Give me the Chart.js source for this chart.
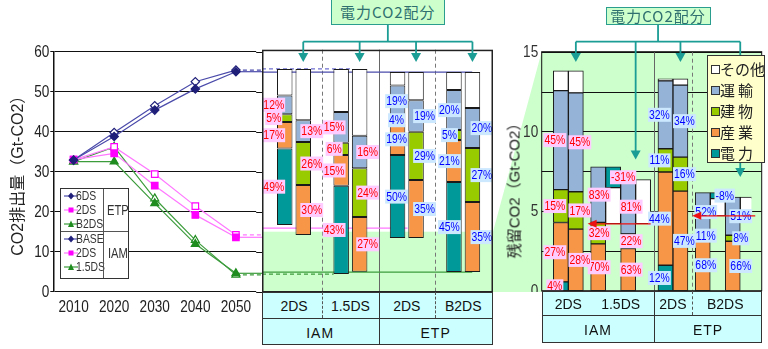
<!DOCTYPE html>
<html lang="ja">
<head>
<meta charset="utf-8">
<title>CO2排出量と残留CO2</title>
<script src="https://cdn.jsdelivr.net/npm/chart.js@4.4.1/dist/chart.umd.min.js"></script>
<style>
  html, body { margin: 0; padding: 0; }
  body { position: relative; width: 768px; height: 349px; overflow: hidden; background: #fff;
         font-family: 'Liberation Sans', 'Noto Sans CJK JP', sans-serif; }
  canvas { position: absolute; top: 0; z-index: 1; }
  svg.layer { position: absolute; left: 0; top: 0; pointer-events: none; }
  #back { z-index: 0; }
  #front { z-index: 2; }
  .box { position: absolute; box-sizing: border-box; }
  .txt { position: absolute; transform: translate(-50%, -50%); white-space: nowrap; }
  .head { position: absolute; box-sizing: border-box; background: #ccffcc; border: 1px solid #2a9d8f;
          color: #2f6f6f; font: 15px 'Noto Sans CJK JP', sans-serif; letter-spacing: 1px;
          display: flex; align-items: center; justify-content: center; z-index: 3; }
  .vtitle { position: absolute; transform: translate(-50%, -50%) rotate(-90deg); white-space: nowrap;
            font: 15px 'Liberation Sans', 'Noto Sans CJK JP', sans-serif; color: #222; z-index: 1; }
</style>
</head>
<body>
<svg id="back" class="layer" width="768" height="349"></svg>
<canvas id="trend" width="262" height="349" style="left:0"></canvas>
<canvas id="cut" width="231" height="292" style="left:262px"></canvas>
<canvas id="residual" width="263" height="292" style="left:505px"></canvas>
<svg id="front" class="layer" width="768" height="349"></svg>
<div class="vtitle" style="left:513px;top:187px">残留CO2（Gt-CO2）</div>
<div id="trendLegend" class="box" style="left:60px;top:188px;width:69px;height:91px;border:1px solid #333;background:#fff;z-index:3"></div>
<div id="sectorLegend" class="box" style="left:707px;top:55px;width:58px;height:108px;border:1px solid #333;background:#ffffcc;z-index:3"></div>
<script>
// narrow face for numbers; squeeze a regular face when no narrow one is installed
function hasFont(name) {
  const c = document.createElement('canvas').getContext('2d');
  const probe = 'mmmmllll2010%';
  c.font = '40px monospace';
  const a = c.measureText(probe).width;
  c.font = `40px '${name}', monospace`;
  return c.measureText(probe).width !== a;
}
const narrowOK = hasFont('Liberation Sans Narrow');
const NARROW = narrowOK ? "'Liberation Sans Narrow', sans-serif" : "'Liberation Sans', sans-serif";
const SQUEEZE = narrowOK ? 1 : 0.8;
const SANS = "'Liberation Sans', 'Noto Sans CJK JP', sans-serif";
Chart.defaults.font.family = SANS;
Chart.defaults.color = '#222';

// CO2 emission pathways (Gt-CO2)
const years = ['2010', '2020', '2030', '2040', '2050'];
const etp6DS  = [32.9, 38.8, 45.4, 50.7, 55.0];
const etp2DS  = [33.0, 34.6, 26.5, 19.2, 13.6];
const etpB2DS = [32.5, 32.5, 22.1, 11.9, 4.6];
const iamBase = [32.9, 39.8, 46.5, 52.5, 55.4];
const iam2DS  = [33.0, 36.2, 29.4, 21.4, 14.2];
const iam15DS = [32.5, 36.2, 23.3, 12.9, 4.2];

// scenario groups and sectors
const scenarios = ['2DS', '1.5DS', '2DS', 'B2DS'];
const models = ['IAM', 'IAM', 'ETP', 'ETP'];
const sectors = ['電力', '産業', '建物', '運輸', 'その他'];

// 2050 reduction from baseline, share by sector (%)
// A = direct emissions, B = power CO2 allocated to end-use sectors
const cutFromA = [16.7, 4.4, 13.4, 4.9];
const cutFromB = [14.2, 5.0, 13.4, 4.9];
const cutTo = [55.7, 55.7, 54.9, 54.9];
const cutPowerA = [49, 43, 50, 45];
const cutIndA = [17, 15, 19, 21];
const cutBldA = [5, 6, 4, 5];
const cutTrnA = [12, 15, 19, 20];
const cutIndB = [30, 27, 35, 35];
const cutBldB = [26, 24, 29, 27];
const cutTrnB = [13, 16, 19, 20];

// 2050 levels carried over into the reduction panel
const carryLevel = [55.7, 54.9, 15.9, 4.9, 4.4];

// residual 2050 emissions (Gt-CO2) and share by sector (%)
const resTotal = [13.8, 4.2, 13.3, 4.7];
const resPowerA = [4, -31, 12, -8];
const resIndA = [27, 70, 44, 68];
const resBldA = [15, 32, 11, 11];
const resTrnA = [45, 83, 32, 52];
const resIndB = [28, 63, 47, 66];
const resBldB = [17, 22, 16, 8];
const resTrnB = [45, 81, 34, 51];

// ---- styles ----
const sectorColors = ['#009999', '#f79646', '#99cc00', '#95b3d7', '#ffffff'];
const labelInk = { IAM: ['#ff0000', '#ffccff'], ETP: ['#0000ff', '#cce8ff'] };
const cutLabelDx = { A: [-11, -7, -1, -4.5], B: [8.5, 8, 8.5, 9.5] };
const resLabelDx = { A: [-6, 1, -6, 3], 'A-': [0, 10, 0, 7], B: [4, 3, 4, 8], 'B-': [0, 0, 0, 0] };
const carryColor = ['#7070d0', '#4b4bab', '#ff77ff', '#3c9c3c', '#3c9c3c'];
const carryDash = [[4, 3], [], [], [], [4, 3]];
const carryEnd = [0.39, 0.91, 0.63, 0.91, 0.31];
const cutSeps = ['dash', 'solid', 'dash'];
const resSeps = [null, 'solid', 'dash'];

function shares(power, ind, bld, trn) {
  return ind.map((_, g) => {
    const p = power ? power[g] : null;
    const rest = 100 - (p || 0) - ind[g] - bld[g] - trn[g];
    return [p, ind[g], bld[g], trn[g], rest];
  });
}

function barSet(label, stack, data, pcts, s, extra) {
  return Object.assign({
    label, stack, data, pcts, sector: s,
    backgroundColor: sectorColors[s], borderColor: '#1a1a1a', borderWidth: 1, borderSkipped: false
  }, extra);
}

// reduction bars: stacked upward from the scenario level to the baseline
function cutSegments(share, from) {
  return share.map((row, g) => {
    const span = cutTo[g] - from[g];
    let lo = from[g];
    return row.map(p => {
      if (p === null) return null;
      const seg = [lo, lo + span * p / 100];
      lo = seg[1];
      return seg;
    });
  });
}

// residual bars: positive parts from zero, negative parts hang down from the top
function resSegments(share) {
  return share.map((row, g) => {
    const T = resTotal[g];
    let top = 0;
    const pos = row.map(p => {
      if (p === null || p <= 0) return null;
      const seg = [top, top + T * p / 100];
      top = seg[1];
      return seg;
    });
    let cur = top;
    const neg = row.map(p => {
      if (p === null || p >= 0) return null;
      const seg = [cur + T * p / 100, cur];
      cur = seg[0];
      return seg;
    });
    return { pos, neg };
  });
}

const cutDatasets = [];
[['A', shares(cutPowerA, cutIndA, cutBldA, cutTrnA), cutFromA],
 ['B', shares(null, cutIndB, cutBldB, cutTrnB), cutFromB]].forEach(([v, share, from]) => {
  const segs = cutSegments(share, from);
  sectors.forEach((name, s) => cutDatasets.push(barSet(name, v, segs.map(r => r[s]), share.map(r => r[s]), s,
    { categoryPercentage: 0.656, barPercentage: 0.838 })));
});

const resDatasets = [];
[['A', shares(resPowerA, resIndA, resBldA, resTrnA)],
 ['B', shares(null, resIndB, resBldB, resTrnB)]].forEach(([v, share]) => {
  const segs = resSegments(share);
  const opts = { barThickness: 15, skipNull: true };
  sectors.forEach((name, s) => resDatasets.push(barSet(name, v, segs.map(r => r.pos[s]), share.map(r => r[s]), s, opts)));
  sectors.forEach((name, s) => {
    const data = segs.map(r => r.neg[s]);
    if (data.some(d => d)) resDatasets.push(barSet(name, v + '-', data, share.map(r => r[s]), s, opts));
  });
});

function groupSpans(chart, test) {
  const spans = chart.data.labels.map(() => ({ l: Infinity, r: -Infinity, top: Infinity }));
  chart.data.datasets.forEach((ds, i) => {
    if (test && !test(ds)) return;
    chart.getDatasetMeta(i).data.forEach((el, g) => {
      if (ds.data[g] == null) return;
      const s = spans[g];
      s.l = Math.min(s.l, el.x - el.width / 2);
      s.r = Math.max(s.r, el.x + el.width / 2);
      s.top = Math.min(s.top, el.y, el.base);
    });
  });
  return spans;
}

function separators(chart) {
  const sp = groupSpans(chart);
  return sp.slice(1).map((s, k) => (sp[k].r + s.l) / 2);
}

function drawSeps(ctx, xs, kinds, top, bottom) {
  xs.forEach((x, k) => {
    if (!kinds[k]) return;
    ctx.save();
    ctx.strokeStyle = kinds[k] === 'dash' ? '#777' : '#666';
    ctx.lineWidth = 1;
    ctx.setLineDash(kinds[k] === 'dash' ? [4, 3] : []);
    ctx.beginPath();
    ctx.moveTo(Math.round(x) + 0.5, top);
    ctx.lineTo(Math.round(x) + 0.5, bottom);
    ctx.stroke();
    ctx.restore();
  });
}

// condensed text at (x, y)
function squeezedText(ctx, text, x, y, size, color, align) {
  ctx.save();
  ctx.font = size + 'px ' + NARROW;
  ctx.textBaseline = 'middle';
  ctx.textAlign = align;
  ctx.fillStyle = color;
  ctx.translate(x, y);
  ctx.scale(SQUEEZE, 1);
  ctx.fillText(text, 0, 0);
  ctx.restore();
}
function squeezedWidth(ctx, text, size) {
  ctx.save();
  ctx.font = size + 'px ' + NARROW;
  const w = ctx.measureText(text).width * SQUEEZE;
  ctx.restore();
  return w;
}

function makeShareLabels(dx) {
  return {
    id: 'shareLabels',
    afterDatasetsDraw(chart) {
      const ctx = chart.ctx;
      chart.data.datasets.forEach((ds, i) => {
        if (ds.sector === 4) return;
        chart.getDatasetMeta(i).data.forEach((el, g) => {
          if (ds.data[g] == null || ds.pcts[g] == null) return;
          const text = ds.pcts[g] + '%';
          const x = el.x + ((dx[ds.stack] || [])[g] || 0);
          const y = (el.y + el.base) / 2;
          const [ink, paper] = labelInk[models[g]];
          const w = squeezedWidth(ctx, text, 13) + 2;
          ctx.fillStyle = paper;
          ctx.fillRect(x - w / 2, y - 7, w, 14);
          squeezedText(ctx, text, x, y + 0.5, 13, ink, 'center');
        });
      });
    }
  };
}

// tick labels drawn condensed at the scale's own tick positions
function makeTickText(specs) {
  return {
    id: 'tickText',
    afterDraw(chart) {
      const ctx = chart.ctx;
      specs.forEach(sp => {
        const scale = chart.scales[sp.axis];
        scale.ticks.forEach((t, i) => {
          const text = sp.format(t.value, i);
          if (text === '') return;
          const p = scale.getPixelForTick(i);
          if (scale.isHorizontal()) squeezedText(ctx, text, p, scale.top + sp.gap, sp.size, sp.color, 'center');
          else squeezedText(ctx, text, scale.right - sp.gap, p + 0.5, sp.size, sp.color, 'right');
        });
      });
    }
  };
}

// trend lines continue to the right edge at their 2050 level; grid runs on to the edge too
const tails = {
  id: 'tails',
  beforeDatasetsDraw(chart) {
    const { ctx, chartArea, scales: { y } } = chart;
    ctx.save();
    ctx.strokeStyle = '#111';
    ctx.lineWidth = 1;
    y.ticks.forEach(t => {
      const py = Math.round(y.getPixelForValue(t.value)) + 0.5;
      ctx.beginPath();
      ctx.moveTo(chartArea.right, py);
      ctx.lineTo(chart.width, py);
      ctx.stroke();
    });
    ctx.restore();
    chart.data.datasets.forEach((ds, i) => {
      const pts = chart.getDatasetMeta(i).data;
      const last = pts[pts.length - 1];
      ctx.save();
      ctx.strokeStyle = ds.borderColor;
      ctx.lineWidth = 1.2;
      ctx.setLineDash(ds.tailDash);
      ctx.beginPath();
      ctx.moveTo(last.x, last.y);
      ctx.lineTo(chart.width, last.y);
      ctx.stroke();
      ctx.restore();
    });
  }
};

const cutFrame = {
  id: 'cutFrame',
  beforeDatasetsDraw(chart) {
    const { ctx, chartArea, scales: { y } } = chart;
    const band = y.getPixelForValue(15);
    ctx.save();
    ctx.fillStyle = '#ccffcc';
    ctx.fillRect(0, band, chart.width, chart.height - band);
    drawSeps(ctx, separators(chart), cutSeps, chartArea.top - 2, chart.height);
    carryLevel.forEach((v, k) => {
      const py = y.getPixelForValue(v);
      ctx.strokeStyle = carryColor[k];
      ctx.lineWidth = 1.2;
      ctx.setLineDash(carryDash[k]);
      ctx.beginPath();
      ctx.moveTo(0, py);
      ctx.lineTo(chart.width * carryEnd[k], py);
      ctx.stroke();
    });
    ctx.restore();
  },
  afterDraw(chart) {
    const { ctx, chartArea } = chart;
    ctx.save();
    ctx.strokeStyle = '#222';
    ctx.lineWidth = 1.5;
    ctx.strokeRect(0.75, chartArea.top - 1.25, chart.width - 1.5, chart.height - chartArea.top + 1);
    ctx.restore();
  }
};

const frameExtra = 10.3;
const resFrame = {
  id: 'resFrame',
  beforeDatasetsDraw(chart) {
    const { ctx, chartArea, scales: { y } } = chart;
    const left = chartArea.left - 0.5, right = chartArea.right + frameExtra;
    ctx.save();
    ctx.fillStyle = '#ccffcc';
    ctx.fillRect(left, chartArea.top, right - left, chartArea.bottom - chartArea.top);
    ctx.strokeStyle = '#111';
    ctx.lineWidth = 1;
    y.ticks.forEach(t => {
      const py = Math.round(y.getPixelForValue(t.value)) + 0.5;
      ctx.beginPath();
      ctx.moveTo(left, py);
      ctx.lineTo(right, py);
      ctx.stroke();
    });
    drawSeps(ctx, separators(chart), resSeps, chartArea.top, chartArea.bottom);
    ctx.restore();
  },
  afterDraw(chart) {
    const { ctx, chartArea } = chart;
    ctx.save();
    ctx.strokeStyle = '#111';
    ctx.lineWidth = 1;
    ctx.strokeRect(chartArea.left - 0.5, chartArea.top, chartArea.right + frameExtra - chartArea.left + 0.5,
      chartArea.bottom - chartArea.top);
    ctx.restore();
  }
};

// ---- left: emission pathways ----
const navyLine = '#4b4bab', navyMark = '#1f1f7a';
const pinkLine = '#ff77ff', pinkMark = '#ff00ff';
const greenLine = '#3c9c3c', greenMark = '#1e8c1e';
const trendSets = [
  { label: '6DS', model: 'ETP', data: etp6DS, line: navyLine, mark: navyMark, shape: 'rectRot', open: false },
  { label: '2DS', model: 'ETP', data: etp2DS, line: pinkLine, mark: pinkMark, shape: 'rect', open: false },
  { label: 'B2DS', model: 'ETP', data: etpB2DS, line: greenLine, mark: greenMark, shape: 'triangle', open: false },
  { label: 'BASE', model: 'IAM', data: iamBase, line: navyLine, mark: navyMark, shape: 'rectRot', open: true },
  { label: '2DS', model: 'IAM', data: iam2DS, line: pinkLine, mark: pinkMark, shape: 'rect', open: true },
  { label: '1.5DS', model: 'IAM', data: iam15DS, line: greenLine, mark: greenMark, shape: 'triangle', open: true }
];

new Chart(document.getElementById('trend'), {
  type: 'line',
  data: {
    labels: years,
    datasets: trendSets.map(t => ({
      label: t.label, data: t.data, borderColor: t.line, borderWidth: 1.2, tension: 0, fill: false,
      pointStyle: t.shape, pointRadius: t.shape === 'rectRot' ? 4.2 : 4.6,
      pointBackgroundColor: t.open ? '#fff' : t.mark, pointBorderColor: t.mark, pointBorderWidth: 1.2,
      tailDash: t.open ? [4, 3] : []
    }))
  },
  options: {
    responsive: false, animation: false, events: [],
    layout: { padding: { top: 51.7, left: 0, right: 4.7, bottom: 0 } },
    plugins: { legend: { display: false }, tooltip: { enabled: false } },
    scales: {
      x: {
        offset: true,
        grid: { display: false, drawTicks: false },
        border: { display: false },
        ticks: { display: false },
        afterFit: s => { s.height = 57.3; }
      },
      y: {
        min: 0, max: 60,
        ticks: { stepSize: 10, display: false },
        grid: { color: '#111', tickColor: '#111', tickLength: 3, lineWidth: 1 },
        border: { color: '#111', width: 1.5 },
        title: { display: true, text: 'CO2排出量（Gt-CO2）', font: { family: SANS, size: 16 }, color: '#222',
                 padding: { top: 9, bottom: 0 } },
        afterFit: s => { s.width = 53.3; }
      }
    }
  },
  plugins: [tails, makeTickText([
    { axis: 'x', size: 17, gap: 16, color: '#222', format: (v, i) => years[i] },
    { axis: 'y', size: 17, gap: 4, color: '#222', format: v => String(v) }
  ])]
});

// ---- middle: reduction by sector ----
const cutChart = new Chart(document.getElementById('cut'), {
  type: 'bar',
  data: { labels: scenarios, datasets: cutDatasets },
  options: {
    responsive: false, animation: false, events: [],
    layout: { padding: { top: 51.7, left: 3.8, right: 1.6, bottom: 0.3 } },
    plugins: { legend: { display: false }, tooltip: { enabled: false } },
    scales: {
      x: { type: 'category', display: false, stacked: true, offset: true },
      y: { display: false, min: 0, max: 60, stacked: false }
    }
  },
  plugins: [cutFrame, makeShareLabels(cutLabelDx)]
});

// ---- right: residual emissions by sector ----
const resChart = new Chart(document.getElementById('residual'), {
  type: 'bar',
  data: { labels: scenarios, datasets: resDatasets },
  options: {
    responsive: false, animation: false, events: [],
    layout: { padding: { top: 51.7, left: 0, right: 16.6, bottom: 1.3 } },
    plugins: { legend: { display: false }, tooltip: { enabled: false } },
    scales: {
      x: { type: 'category', display: false, stacked: true, offset: true },
      y: {
        min: 0, max: 15, stacked: false,
        ticks: { stepSize: 2.5, display: false },
        grid: { display: false, drawTicks: false },
        border: { display: false },
        afterFit: s => { s.width = 37.2; }
      }
    }
  },
  plugins: [resFrame, makeShareLabels(resLabelDx), makeTickText([
    { axis: 'y', size: 17, gap: 4, color: '#333', format: v => (v % 5 === 0 ? String(v) : '') }
  ])]
});

// ---- decorations: category rows, connectors, legends ----
const NS = 'http://www.w3.org/2000/svg';
function svgEl(parent, tag, attrs) {
  const e = document.createElementNS(NS, tag);
  Object.entries(attrs).forEach(([k, v]) => e.setAttribute(k, v));
  parent.appendChild(e);
  return e;
}
function addDiv(cls, style, text) {
  const d = document.createElement('div');
  d.className = cls;
  d.style.cssText = style;
  if (text !== undefined) d.textContent = text;
  document.body.appendChild(d);
  return d;
}

function categoryRows(chart, offset, x0, x1, top, h1, h2, kinds) {
  const spans = groupSpans(chart).map(s => ({ l: s.l + offset, r: s.r + offset }));
  const seps = separators(chart).map(x => x + offset);
  addDiv('box', `left:${x0}px;top:${top}px;width:${x1 - x0}px;height:${h1 + h2}px;background:#ccffff;border:1px solid #333;z-index:1`);
  addDiv('box', `left:${x0}px;top:${top + h1}px;width:${x1 - x0}px;height:0;border-top:1px solid #333;z-index:1`);
  seps.forEach((x, k) => {
    if (!kinds[k]) return;
    const full = models[k] !== models[k + 1];
    addDiv('box', `left:${Math.round(x)}px;top:${top}px;width:0;height:${full ? h1 + h2 : h1}px;` +
      `border-left:1px ${kinds[k] === 'dash' ? 'dashed #555' : 'solid #333'};z-index:1`);
  });
  spans.forEach((s, g) => addDiv('txt', `left:${(s.l + s.r) / 2}px;top:${top + h1 / 2 + 1}px;font-size:14px;color:#111;z-index:1`, scenarios[g]));
  let start = x0;
  models.forEach((m, g) => {
    if (g < models.length - 1 && models[g + 1] === m) return;
    const end = g < models.length - 1 ? seps[g] : x1;
    addDiv('txt', `left:${(start + end) / 2}px;top:${top + h1 + h2 / 2 + 1}px;font-size:14px;letter-spacing:1px;color:#111;z-index:1`, m);
    start = end;
  });
}

categoryRows(cutChart, 262, 261.7, 492.7, 291.7, 26.6, 26.7, cutSeps);
categoryRows(resChart, 505, 541.7, 761.7, 290.7, 24.3, 28, resSeps);

// zoom band linking the 0-15 range of the middle panel to the right panel
const back = document.getElementById('back');
const bandTop = cutChart.scales.y.getPixelForValue(15);
const resLeft = 505 + resChart.chartArea.left - 0.5;
svgEl(back, 'polygon', {
  points: `493,${bandTop} ${resLeft},${resChart.chartArea.top} ${resLeft},292 493,292`,
  fill: '#ccffcc'
});

// "電力CO2配分" connectors pointing at the allocated bars
const front = document.getElementById('front');
const teal = '#1b9c94';
function connector(chart, offset, boxTop, boxW) {
  const sp = groupSpans(chart, ds => ds.stack[0] === 'B');
  const drops = sp.map(s => ({ x: offset + (s.l + s.r) / 2, y: Math.max(62, s.top - 20) }));
  const cx = (drops[0].x + drops[drops.length - 1].x) / 2;
  const bus = 41.7;
  addDiv('head', `left:${cx - boxW / 2}px;top:${boxTop}px;width:${boxW}px;height:${25 - boxTop}px`, '電力CO2配分');
  const line = { stroke: teal, 'stroke-width': 1.8, fill: 'none' };
  svgEl(front, 'line', Object.assign({ x1: cx, y1: 25, x2: cx, y2: bus }, line));
  svgEl(front, 'line', Object.assign({ x1: drops[0].x, y1: bus, x2: drops[drops.length - 1].x, y2: bus }, line));
  drops.forEach(d => {
    svgEl(front, 'line', Object.assign({ x1: d.x, y1: bus, x2: d.x, y2: d.y - 8 }, line));
    svgEl(front, 'polygon', { points: `${d.x - 5},${d.y - 9} ${d.x + 5},${d.y - 9} ${d.x},${d.y}`, fill: teal });
  });
}
connector(cutChart, 262, -2, 114);
connector(resChart, 505, 6.7, 105);

// net-level arrows in the residual panel (bar top minus negative parts)
const netArrow = '#ee1111';
const resSp = groupSpans(resChart);
resTotal.forEach((t, g) => {
  const hasNeg = resChart.data.datasets.some(ds => ds.stack.endsWith('-') && ds.data[g]);
  if (!hasNeg) return;
  const py = resChart.scales.y.getPixelForValue(t);
  const xl = 505 + resSp[g].l - 3, xr = 505 + resSp[g].r;
  svgEl(front, 'line', { x1: xr, y1: py, x2: xl + 8, y2: py, stroke: netArrow, 'stroke-width': 1.3 });
  svgEl(front, 'polygon', { points: `${xl},${py} ${xl + 9},${py - 4} ${xl + 9},${py + 4}`, fill: netArrow });
});

// trend legend (ETP / IAM)
const tl = document.getElementById('trendLegend');
function markerSvg(t) {
  const fill = t.mark;
  let shape;
  if (t.shape === 'rectRot') shape = `<polygon points="7,1.5 10,5 7,8.5 4,5" fill="${fill}"/>`;
  else if (t.shape === 'rect') shape = `<rect x="4.5" y="2.5" width="5" height="5" fill="${fill}"/>`;
  else shape = `<polygon points="7,1.5 10,8 4,8" fill="${fill}"/>`;
  return `<svg width="14" height="10" style="position:absolute;left:3px;top:-5px">` +
    `<line x1="0" y1="5" x2="14" y2="5" stroke="${t.line}" stroke-width="1.2"/>${shape}</svg>`;
}
const squeezeCss = `transform:scaleX(${SQUEEZE});transform-origin:0 50%;`;
trendSets.forEach((t, i) => {
  const cy = [6.7, 20.7, 34.7, 49.7, 63.7, 77.7][i];
  const row = document.createElement('div');
  row.style.cssText = `position:absolute;left:0;top:${cy}px;height:0`;
  row.innerHTML = markerSvg(t) + `<span style="position:absolute;left:15px;top:-8px;font:13px ${NARROW};color:#333;white-space:nowrap;${squeezeCss}">${t.label}</span>`;
  tl.appendChild(row);
});
tl.insertAdjacentHTML('beforeend',
  `<div style="position:absolute;left:42.3px;top:0;width:0;height:89px;border-left:1px solid #555"></div>` +
  `<div style="position:absolute;left:0;top:42.4px;width:67px;height:0;border-top:1px solid #555"></div>` +
  `<div style="position:absolute;left:46px;top:13px;font:14px ${NARROW};color:#333;${squeezeCss}">ETP</div>` +
  `<div style="position:absolute;left:46.5px;top:56px;font:14px ${NARROW};color:#333;${squeezeCss}">IAM</div>`);

// sector legend
const sl = document.getElementById('sectorLegend');
sectors.map((name, s) => ({ name, color: sectorColors[s] })).reverse().forEach((item, i) => {
  const cy = 13 + i * 21;
  const spacing = item.name.length === 2 ? 'letter-spacing:3px;' : '';
  sl.insertAdjacentHTML('beforeend',
    `<div style="position:absolute;left:3px;top:${cy - 4}px;width:7px;height:7px;border:1px solid #333;background:${item.color}"></div>` +
    `<div style="position:absolute;left:12px;top:${cy - 11}px;font:15px 'Noto Sans CJK JP',sans-serif;color:#222;${spacing}white-space:nowrap">${item.name}</div>`);
});
</script>
</body>
</html>
